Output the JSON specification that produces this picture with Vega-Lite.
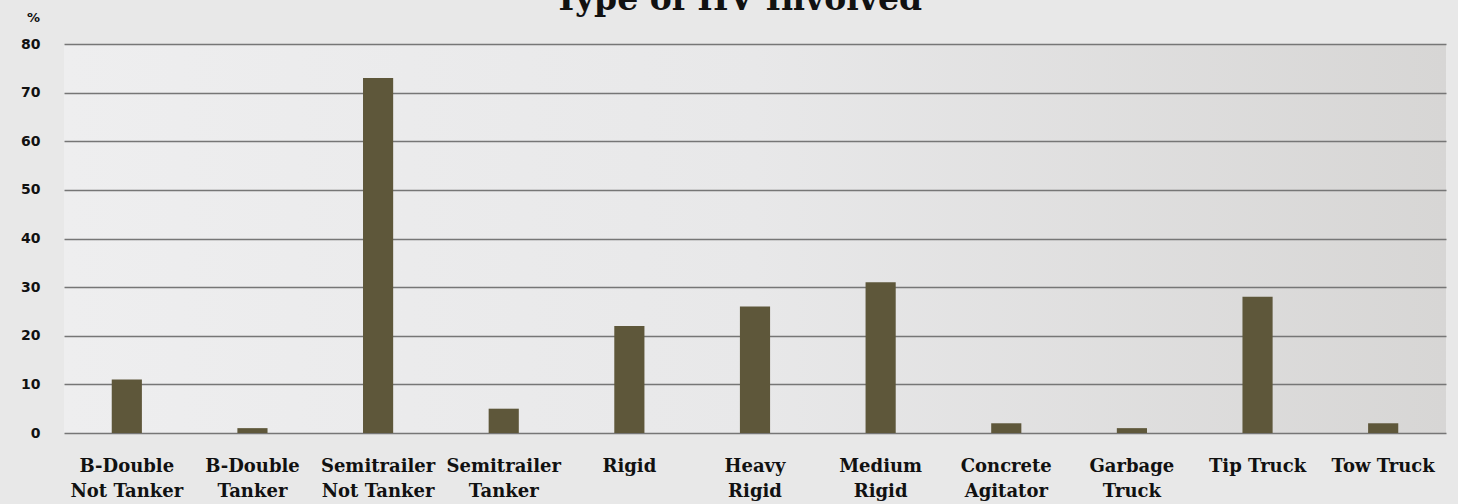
{
  "$schema": "https://vega.github.io/schema/vega-lite/v6.json",
  "autosize": {"type": "none"},
  "width": 1382,
  "height": 389,
  "padding": {"left": 64, "top": 44, "right": 12, "bottom": 71},
  "background": "#e8e8e8",
  "title": {
    "text": "Type of HV Involved",
    "font": "DejaVu Serif",
    "fontWeight": "bold",
    "fontSize": 33,
    "color": "#111111",
    "anchor": "middle",
    "baseline": "alphabetic",
    "offset": -32,
    "dx": -17
  },
  "data": {
    "values": [
      {"type": "B-Double Not Tanker", "pct": 11},
      {"type": "B-Double Tanker", "pct": 1},
      {"type": "Semitrailer Not Tanker", "pct": 73},
      {"type": "Semitrailer Tanker", "pct": 5},
      {"type": "Rigid", "pct": 22},
      {"type": "Heavy Rigid", "pct": 26},
      {"type": "Medium Rigid", "pct": 31},
      {"type": "Concrete Agitator", "pct": 2},
      {"type": "Garbage Truck", "pct": 1},
      {"type": "Tip Truck", "pct": 28},
      {"type": "Tow Truck", "pct": 2}
    ]
  },
  "mark": {"type": "bar", "color": "#5e573a"},
  "encoding": {
    "x": {
      "field": "type",
      "type": "nominal",
      "sort": null,
      "scale": {"paddingInner": 0.76, "paddingOuter": 0.38},
      "axis": {
        "title": null,
        "labelAngle": 0,
        "labelFont": "DejaVu Serif",
        "labelFontWeight": "bold",
        "labelFontSize": 18,
        "labelColor": "#111111",
        "labelLineHeight": 25,
        "labelPadding": 24,
        "ticks": false,
        "tickSize": 0,
        "domain": false,
        "labelOverlap": false,
        "labelBound": false,
        "labelLimit": 300,
        "labelExpr": "indexof(datum.value, ' ') < 0 || datum.value == 'Tip Truck' || datum.value == 'Tow Truck' ? datum.value : [substring(datum.value, 0, indexof(datum.value, ' ')), substring(datum.value, indexof(datum.value, ' ') + 1)]"
      }
    },
    "y": {
      "field": "pct",
      "type": "quantitative",
      "scale": {"domain": [0, 80], "nice": false},
      "axis": {
        "title": "%",
        "titleAngle": 0,
        "titleX": -31,
        "titleY": -27,
        "titleAlign": "center",
        "titleBaseline": "middle",
        "titleFont": "DejaVu Sans",
        "titleFontWeight": "bold",
        "titleFontSize": 13,
        "titleColor": "#111111",
        "values": [0, 10, 20, 30, 40, 50, 60, 70, 80],
        "labelFont": "DejaVu Sans",
        "labelFontWeight": "bold",
        "labelFontSize": 14,
        "labelColor": "#111111",
        "labelPadding": 24,
        "ticks": false,
        "tickSize": 0,
        "domain": false,
        "grid": true,
        "gridColor": "#767676",
        "gridWidth": 1.5,
        "gridOpacity": 1
      }
    }
  },
  "config": {
    "view": {
      "stroke": null,
      "fill": {
        "gradient": "linear",
        "x1": 0, "y1": 0, "x2": 1, "y2": 0,
        "stops": [
          {"offset": 0, "color": "#eeeeef"},
          {"offset": 0.5, "color": "#e8e8e9"},
          {"offset": 1, "color": "#d7d6d5"}
        ]
      }
    }
  }
}
